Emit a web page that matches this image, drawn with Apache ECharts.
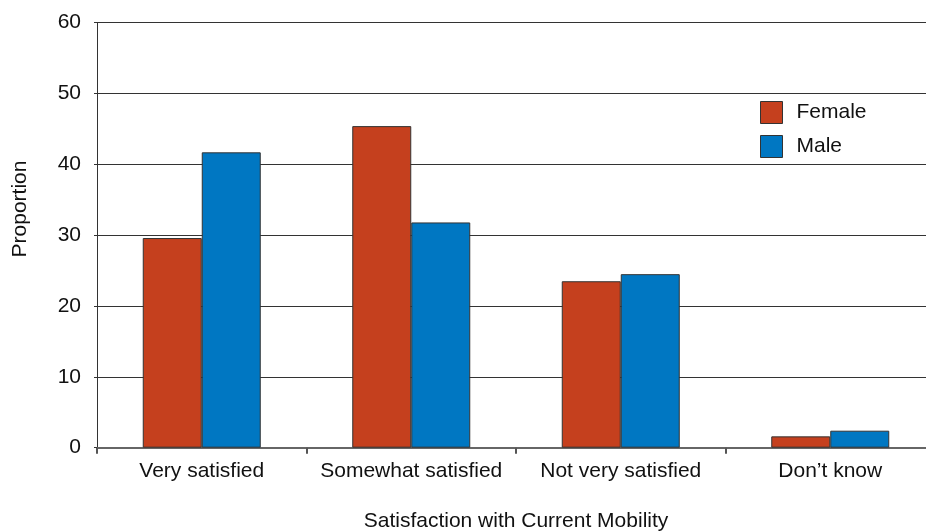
<!DOCTYPE html>
<html><head><meta charset="utf-8">
<script src="https://cdn.jsdelivr.net/npm/echarts@6/dist/echarts.min.js"></script>
<style>html,body{margin:0;padding:0;background:#fff}#c{width:926px;height:531px}</style>
</head><body><div id="c"></div>
<script>
const categories = ["Very satisfied", "Somewhat satisfied", "Not very satisfied", "Don\u2019t know"];
const female = [29.6, 45.4, 23.5, 1.6];
const male = [41.7, 31.8, 24.5, 2.4];
const yTicks = [0, 10, 20, 30, 40, 50, 60];

const font = "'Liberation Sans', Arial, sans-serif";
const chart = echarts.init(document.getElementById('c'), null, {renderer: 'canvas'});
chart.setOption({
  animation: false,
  backgroundColor: '#fff',
  grid: {left: 97, top: 22.7, width: 838, height: 425, containLabel: false, outerBoundsMode: 'none'},
  legend: {
    data: ['Female', 'Male'], orient: 'vertical', left: 755, top: 96,
    itemWidth: 22, itemHeight: 22, itemGap: 11, icon: 'rect',
    textStyle: {fontFamily: font, fontSize: 21, color: '#111', padding: [0, 0, 0, 9], lineHeight: 22},
    itemStyle: {borderColor: '#333', borderWidth: 1}
  },
  xAxis: {
    type: 'category', data: categories,
    name: 'Satisfaction with Current Mobility', nameLocation: 'middle', nameGap: 63,
    nameTextStyle: {fontFamily: font, fontSize: 21, color: '#111'},
    axisLine: {lineStyle: {color: '#666', width: 2}},
    axisTick: {show: true, length: 6, lineStyle: {color: '#555', width: 2}},
    axisLabel: {fontFamily: font, fontSize: 21, color: '#111', margin: 13, interval: 0}
  },
  yAxis: {
    type: 'value', min: yTicks[0], max: yTicks[yTicks.length - 1], interval: 10,
    axisLine: {show: true, lineStyle: {color: '#333', width: 1}},
    axisTick: {show: true, length: 3, lineStyle: {color: '#333', width: 1}},
    axisLabel: {fontFamily: font, fontSize: 21, color: '#111', margin: 16},
    splitLine: {show: true, lineStyle: {color: '#333', width: 1}}
  },
  graphic: [{
    type: 'text', x: 20, y: 209, rotation: Math.PI / 2,
    style: {text: 'Proportion', font: '21px ' + font, fill: '#111', align: 'center', verticalAlign: 'middle'}
  }],
  series: [
    {name: 'Female', type: 'bar', data: female, barWidth: 59, barGap: '0%',
     itemStyle: {color: '#C5401E', borderColor: '#333', borderWidth: 1}},
    {name: 'Male', type: 'bar', data: male, barWidth: 59, barGap: '0%',
     itemStyle: {color: '#0077C2', borderColor: '#333', borderWidth: 1}}
  ]
});
</script></body></html>
